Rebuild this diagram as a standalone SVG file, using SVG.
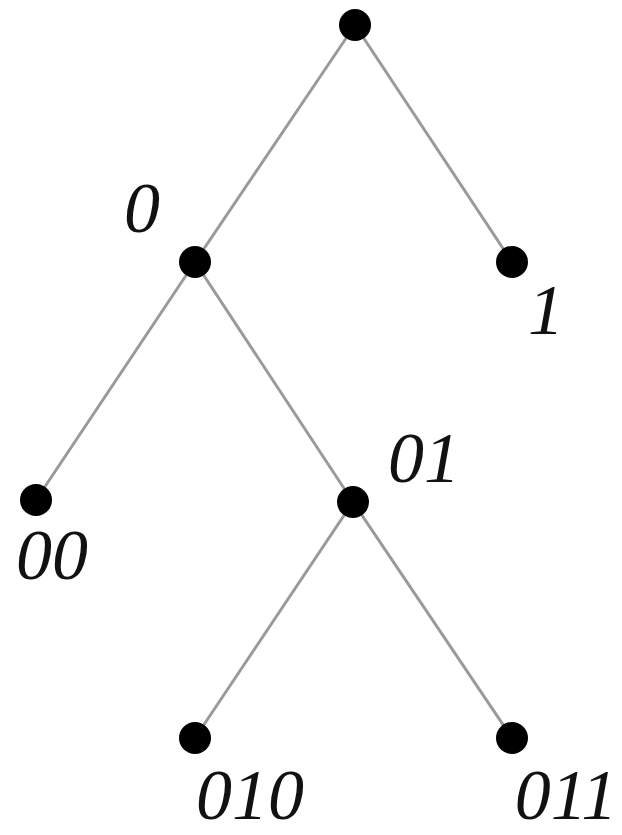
<svg xmlns="http://www.w3.org/2000/svg" width="622" height="835" viewBox="0 0 622 835">
<style>
.e{stroke:#9a9a9a;stroke-width:3;fill:none}
.n{fill:#000}
.t{font-family:"Liberation Serif","Times New Roman",serif;font-style:italic;font-size:72px;fill:#111;text-anchor:middle}
</style>
<rect width="622" height="835" fill="#fff"/>
<g id="edges">
<line class="e" x1="355" y1="25" x2="195" y2="262"/>
<line class="e" x1="355" y1="25" x2="512" y2="262"/>
<line class="e" x1="195" y1="262" x2="36" y2="500"/>
<line class="e" x1="195" y1="262" x2="353" y2="502"/>
<line class="e" x1="353" y1="502" x2="195" y2="738"/>
<line class="e" x1="353" y1="502" x2="512" y2="738"/>
</g>
<g id="root"><circle class="n" cx="355" cy="25" r="16"/></g>
<g id="n0"><circle class="n" cx="195" cy="262" r="16"/><text class="t" x="142" y="232">0</text></g>
<g id="n1"><circle class="n" cx="512" cy="262" r="16"/><text class="t" x="546" y="334">1</text></g>
<g id="n00"><circle class="n" cx="36" cy="500" r="16"/><text class="t" x="52" y="579">00</text></g>
<g id="n01"><circle class="n" cx="353" cy="502" r="16"/><text class="t" x="424" y="482">01</text></g>
<g id="n010"><circle class="n" cx="195" cy="738" r="16"/><text class="t" x="250" y="819">010</text></g>
<g id="n011"><circle class="n" cx="512" cy="738" r="16"/><text class="t" x="566" y="819">011</text></g>
</svg>
